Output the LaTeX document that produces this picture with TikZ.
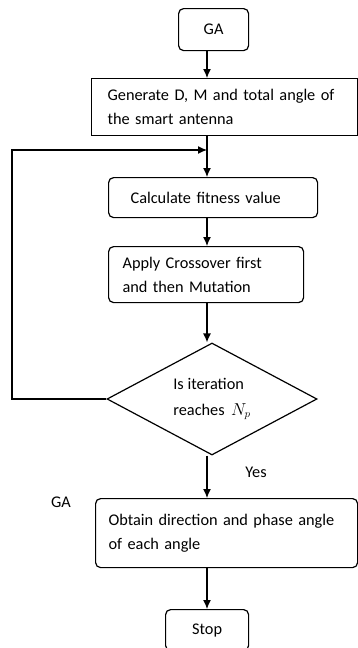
\documentclass[tikz,border=0pt]{standalone}
\usepackage{fontspec}
\setmainfont{Carlito}
\usepackage{tikz}
\usetikzlibrary{arrows,arrows.meta,shapes,shapes.geometric,positioning}
\tikzstyle{arrow} = [line width=1.2pt,-{Latex[length=9pt,width=8pt]}]
\tikzstyle{procbox} = [draw, line width=1.2pt, rounded corners=5pt, anchor=north west, align=left, font=\fontsize{16.3}{24}\selectfont]
\tikzstyle{squarebox} = [draw, line width=1.2pt, anchor=north west, align=left, font=\fontsize{16.3}{24}\selectfont]
\tikzstyle{decision} = [draw, line width=1.2pt, diamond, aspect=1.9, inner sep=0pt, minimum width=210pt, minimum height=112pt, align=left, font=\fontsize{16.3}{26}\selectfont]

\begin{document}
\begin{tikzpicture}[x=1pt,y=1pt]
\useasboundingbox (0,0) rectangle (357,-648);
% Boxes
\node[procbox, minimum width=70, minimum height=42, align=center, inner sep=0pt] (ga) at (178,-8) {GA};
\node[squarebox, minimum height=57, text width=234, inner xsep=16, inner ysep=0pt] (gen) at (91,-78) {Generate D, M and total angle of\\the smart antenna};
\node[procbox, minimum height=40, text width=165, inner xsep=22, inner ysep=0pt] (calc) at (108,-177) {Calculate fitness value};
\node[procbox, minimum height=56, text width=167, inner xsep=14, inner ysep=0pt] (apply) at (108,-246) {Apply Crossover first\\and then Mutation};
\node[decision] (dec) at (212,-399) {Is iteration\\reaches \,$N_{p}$};
\node[procbox, minimum height=69, text width=236, inner xsep=13, inner ysep=0pt] (obtain) at (95,-498) {Obtain direction and phase angle\\of each angle};
\node[procbox, minimum width=83, minimum height=41, align=center, inner sep=0pt] (stop) at (165,-609) {Stop};

% Labels
\node[font=\fontsize{16.3}{18}\selectfont] (yes) at (256,-472) {Yes};
\node[font=\fontsize{16.3}{18}\selectfont] (galabel) at (61,-502) {GA};

% Connections
\coordinate (col) at (207,0);
\coordinate (back) at (12,-150);
\coordinate (join) at (207,-150);
\draw[arrow] (ga.south -| col) -- (gen.north -| col);
\draw[arrow] (gen.south -| col) -- (calc.north -| col);
\draw[arrow] (calc.south -| col) -- (apply.north -| col);
\draw[arrow] (apply.south -| col) -- (dec.north -| col);
\draw[arrow] (dec.south -| col) -- (obtain.north -| col);
\draw[arrow] (obtain.south -| col) -- (stop.north -| col);
\draw[arrow] (dec.west) -| (back) -- (join);
\end{tikzpicture}
\end{document}
